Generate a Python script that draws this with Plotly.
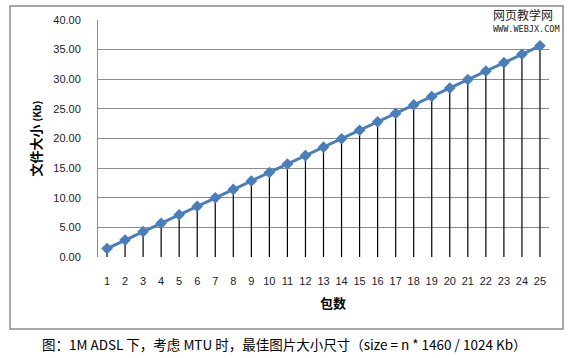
import plotly.graph_objects as go

packets = list(range(1, 26))
sizes = [1.43, 2.85, 4.28, 5.70, 7.13, 8.55, 9.98, 11.41, 12.83, 14.26,
         15.68, 17.11, 18.54, 19.96, 21.39, 22.81, 24.24, 25.66, 27.09, 28.52,
         29.94, 31.37, 32.79, 34.22, 35.64]
y_ticks = [0, 5, 10, 15, 20, 25, 30, 35, 40]
y_labels = ["%.2f" % v for v in y_ticks]
zeros = [0] * len(sizes)

fig = go.Figure()
fig.add_trace(go.Scatter(
    x=packets, y=sizes, mode="lines+markers",
    line=dict(color="#4a7ebb", width=3),
    marker=dict(symbol="diamond", size=9, color="#4a7ebb"),
    error_y=dict(type="data", symmetric=False, array=zeros, arrayminus=sizes,
                 color="black", thickness=1.2, width=0),
    showlegend=False,
))

font_tick = dict(family="Liberation Sans, Arial", size=11, color="#1a1a2e")
fig.update_layout(
    width=573, height=358,
    margin=dict(l=98, r=24, t=20, b=101),
    paper_bgcolor="white", plot_bgcolor="white",
    xaxis=dict(range=[0.5, 25.5], tickvals=packets, ticktext=[str(p) for p in packets],
               showgrid=False, zeroline=False, showline=False,
               ticks="outside", ticklen=14, tickcolor="rgba(0,0,0,0)",
               tickfont=font_tick, fixedrange=True),
    yaxis=dict(range=[0, 40], tickvals=y_ticks, ticktext=y_labels,
               showgrid=True, gridcolor="#8c8c8c", gridwidth=1,
               zeroline=False, showline=True, linecolor="#8c8c8c", linewidth=1,
               ticks="outside", ticklen=14, tickcolor="rgba(0,0,0,0)",
               tickfont=font_tick, fixedrange=True),
    shapes=[
        dict(type="rect", xref="paper", yref="paper",
             x0=(10 - 98) / 451, x1=(563 - 98) / 451,
             y0=(257 - 329) / 237, y1=(257 - 6) / 237,
             line=dict(color="#8c8c8c", width=1.5), layer="below"),
    ],
    annotations=[
        dict(text="<b>包数</b>", xref="paper", yref="paper",
             x=(333 - 98) / 451, y=(257 - 302) / 237, showarrow=False,
             xanchor="center", yanchor="middle",
             font=dict(family="Noto Sans CJK SC", size=13, color="black")),
        dict(text="<b>文件大小 <span style='font-size:10px'>(Kb)</span></b>",
             xref="paper", yref="paper",
             x=(35 - 98) / 451, y=0.5, textangle=-90, showarrow=False,
             xanchor="center", yanchor="middle",
             font=dict(family="Noto Sans CJK SC", size=13, color="black")),
        dict(text="图：1M ADSL 下，考虑 MTU 时，最佳图片大小尺寸（size = n * 1460 / 1024 Kb）",
             xref="paper", yref="paper",
             x=(284 - 98) / 451, y=(257 - 344) / 237, showarrow=False,
             xanchor="center", yanchor="middle",
             font=dict(family="Noto Sans CJK SC", size=13.5, color="black")),
        dict(text="网页教学网", xref="paper", yref="paper",
             x=(555 - 98) / 451, y=(257 - 14) / 237, showarrow=False,
             xanchor="right", yanchor="middle",
             font=dict(family="Noto Sans CJK SC", size=12, color="#222")),
        dict(text="WWW.WEBJX.COM", xref="paper", yref="paper",
             x=(562 - 98) / 451, y=(257 - 29) / 237, showarrow=False,
             xanchor="right", yanchor="middle",
             font=dict(family="DejaVu Sans Mono", size=8.5, color="#222")),
    ],
)

fig.write_html("out.html")
